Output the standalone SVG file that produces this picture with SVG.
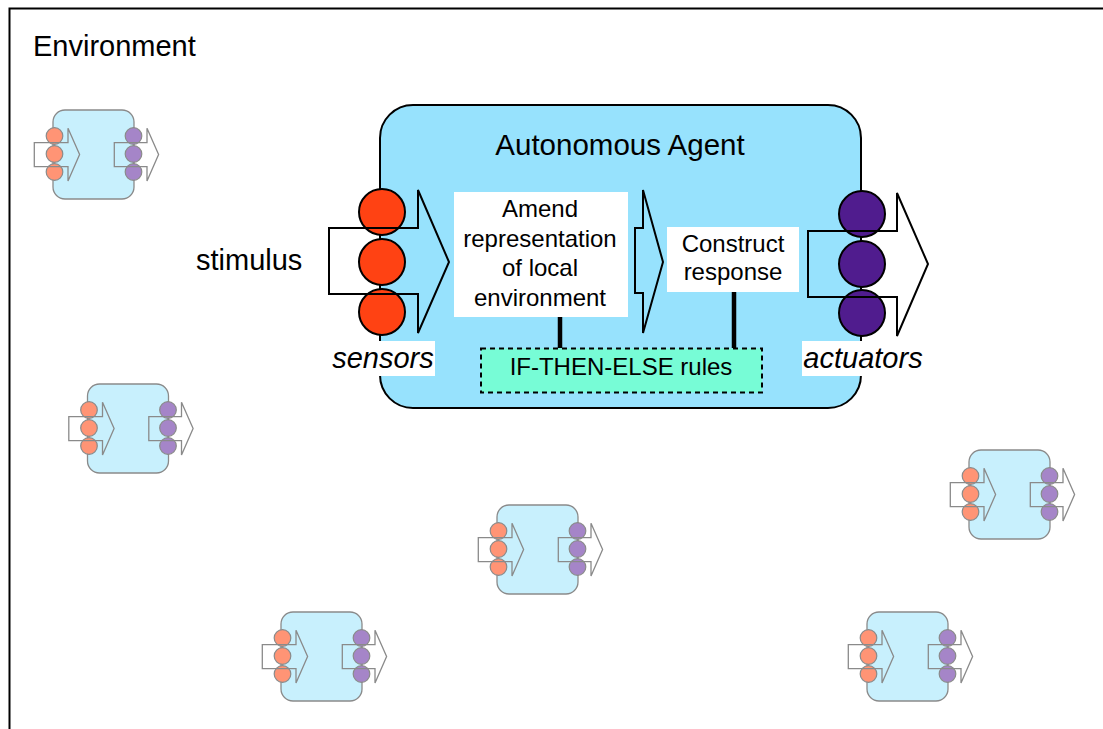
<svg xmlns="http://www.w3.org/2000/svg" xmlns:xlink="http://www.w3.org/1999/xlink" width="1103" height="729" viewBox="0 0 1103 729">
<style>
text{font-family:"Liberation Sans",Arial,sans-serif;fill:#000}
.lbl{font-size:29px}
.box{font-size:24px;text-anchor:middle}
.it{font-style:italic;text-anchor:middle}
.arrow{fill:none;stroke:#000;stroke-width:2;stroke-linejoin:miter}
.sens{fill:#FF4213;stroke:#000;stroke-width:2}
.act{fill:#501C8E;stroke:#000;stroke-width:2}
.sa-body{fill:#C8F0FD;stroke:#8A8A8A;stroke-width:1.3}
.sa-s{fill:#FF9475;stroke:#8A8A8A;stroke-width:1.2}
.sa-a{fill:#A585C8;stroke:#8A8A8A;stroke-width:1.2}
.sa-arrow{fill:none;stroke:#8A8A8A;stroke-width:1.3}
.conn{stroke:#000;stroke-width:4.5}
</style>
<defs>
<g id="smallAgent">
<rect class="sa-body" x="0" y="0" width="81" height="89" rx="12"/>
<circle class="sa-s" cx="1.5" cy="26" r="8.3"/>
<circle class="sa-s" cx="1.5" cy="44" r="8.3"/>
<circle class="sa-s" cx="1.5" cy="62" r="8.3"/>
<path class="sa-arrow" d="M-18.7,32.7 H15 V18.3 L26.6,44.5 L15,71 V56.7 H-18.7 Z"/>
<circle class="sa-a" cx="80.5" cy="26" r="8.3"/>
<circle class="sa-a" cx="80.5" cy="44" r="8.3"/>
<circle class="sa-a" cx="80.5" cy="62" r="8.3"/>
<path class="sa-arrow" d="M61.3,32.7 H94 V18.3 L105.6,44.5 L94,71 V56.7 H61.3 Z"/>
</g>
</defs>
<rect x="0" y="0" width="1103" height="729" fill="#fff"/>
<g id="environment">
<rect x="9.5" y="8.5" width="1200" height="1000" fill="none" stroke="#000" stroke-width="2"/>
<text class="lbl" x="33" y="56">Environment</text>
</g>
<g id="small-agent-1"><use xlink:href="#smallAgent" transform="translate(53,110)"/></g>
<g id="small-agent-2"><use xlink:href="#smallAgent" transform="translate(87.5,384)"/></g>
<g id="small-agent-3"><use xlink:href="#smallAgent" transform="translate(969,450)"/></g>
<g id="small-agent-4"><use xlink:href="#smallAgent" transform="translate(497,505)"/></g>
<g id="small-agent-5"><use xlink:href="#smallAgent" transform="translate(281,612)"/></g>
<g id="small-agent-6"><use xlink:href="#smallAgent" transform="translate(867,612)"/></g>
<g id="agent">
<rect x="380" y="105" width="481" height="303" rx="33" fill="#97E2FD" stroke="#000" stroke-width="2"/>
<text class="lbl" x="620" y="155" text-anchor="middle" style="font-size:29.5px">Autonomous Agent</text>
</g>
<g id="stimulus"><text class="lbl" x="196" y="270">stimulus</text></g>
<g id="sensors">
<circle class="sens" cx="382" cy="212" r="23"/>
<circle class="sens" cx="382" cy="262" r="23"/>
<circle class="sens" cx="382" cy="312" r="23"/>
<path class="arrow" d="M329,228 H418 V190 L449,262 L418,333 V294 H329 Z"/>
<rect x="332" y="341" width="103" height="35" fill="#fff"/>
<text class="lbl it" x="383" y="368">sensors</text>
</g>
<g id="amend">
<rect x="454" y="192" width="174" height="125" fill="#fff"/>
<text class="box" x="540" y="217">Amend</text>
<text class="box" x="540" y="247">representation</text>
<text class="box" x="540" y="276">of local</text>
<text class="box" x="540" y="306">environment</text>
</g>
<g id="mid-arrow">
<path class="arrow" d="M635,228 H643 V190 L663,262 L643,333 V293 H635 Z"/>
</g>
<g id="construct">
<rect x="667" y="227" width="132" height="65" fill="#fff"/>
<text class="box" x="733" y="252">Construct</text>
<text class="box" x="733" y="280">response</text>
</g>
<g id="rules">
<rect x="481" y="348.5" width="281" height="44" fill="#77FCD6" stroke="#000" stroke-width="2" stroke-dasharray="5,4"/>
<text class="box" x="621" y="375">IF-THEN-ELSE rules</text>
</g>
<g id="actuators">
<circle class="act" cx="862" cy="214" r="23"/>
<circle class="act" cx="862" cy="264" r="23"/>
<circle class="act" cx="862" cy="313" r="23"/>
<path class="arrow" d="M808,231 H897 V193 L928,264 L897,336 V297 H808 Z"/>
<rect x="802" y="341" width="123" height="35" fill="#fff"/>
<text class="lbl it" x="863" y="368">actuators</text>
</g>
<g id="connectors">
<line class="conn" x1="560" y1="317" x2="560" y2="348"/>
<line class="conn" x1="734" y1="292" x2="734" y2="348"/>
</g>
</svg>
